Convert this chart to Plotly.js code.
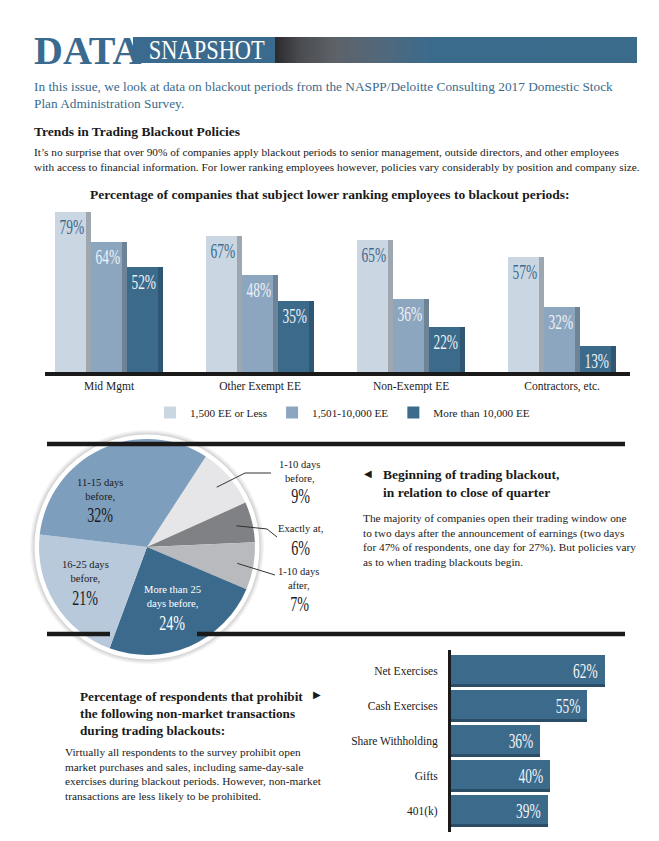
<!DOCTYPE html>
<html><head><meta charset="utf-8">
<script src="https://cdn.plot.ly/plotly-3.0.1.min.js"></script>
<style>html,body{margin:0;padding:0;background:#fff}#chart{width:659px;height:841px}</style>
</head><body><div id="chart"></div>
<script>
// ---------- DATA ----------
const groups = ['Mid Mgmt', 'Other Exempt EE', 'Non-Exempt EE', 'Contractors, etc.'];
const seriesNames = ['1,500 EE or Less', '1,501-10,000 EE', 'More than 10,000 EE'];
const smallCo = [79, 67, 65, 57];
const midCo = [64, 48, 36, 32];
const largeCo = [52, 35, 22, 13];

const pieLabels = ['1-10 days<br>before,', 'Exactly at,', '1-10 days<br>after,', 'More than 25<br>days before,', '16-25 days<br>before,', '11-15 days<br>before,'];
const pieValues = [9, 6, 7, 24, 21, 32];

const txnLabels = ['Net Exercises', 'Cash Exercises', 'Share Withholding', 'Gifts', '401(k)'];
const txnValues = [62, 55, 36, 40, 39];

// ---------- STYLE ----------
const W = 659, H = 841;
const px = x => x / W, py = y => 1 - y / H;
const SERIF = 'Liberation Serif, serif';
const NUM = 'Liberation Serif, serif';
const BLUE = '#3b6a8c';
const barColors = ['#cbd6e3', '#8ca6c0', '#3b6a8b'];
const stripColors = ['#9ea6b0', '#6f8397', '#2f5673'];
const barTextColors = [BLUE, '#eef2f6', '#eef2f6'];
const pieColors = ['#e6e6e8', '#808184', '#b9babd', '#3c6a8c', '#b8c9dc', '#7e9ebd'];
const pieTextColors = ['#1a1a1a', '#1a1a1a', '#1a1a1a', '#ffffff', '#1a1a1a', '#1a1a1a'];
// label block centre x, first wording line y, percentage y (page pixels)
const pieLabelPos = [[300, 465, 496], [300, 528, 547], [299, 572, 603], [172, 590, 622], [85, 565, 597], [100, 483, 514]];

const traces = [];
const seriesVals = [smallCo, midCo, largeCo];
const BW = 0.238, SW = 0.033;
seriesVals.forEach((vals, s) => {
  const off = -0.357 + s * BW;
  traces.push({
    type: 'bar', name: seriesNames[s], x: groups, y: vals,
    offset: off, width: BW - SW * 0.5, marker: {color: barColors[s]},
    text: vals.map(v => v + '%'), textposition: 'inside', insidetextanchor: 'end',
    textangle: 0, constraintext: 'none',
    textfont: {family: NUM, size: 21, color: barTextColors[s]},
    xaxis: 'x', yaxis: 'y', hoverinfo: 'x+y'
  });
  traces.push({
    type: 'bar', x: groups, y: vals, offset: off + BW - SW, width: SW,
    marker: {color: stripColors[s]}, showlegend: false, hoverinfo: 'skip',
    xaxis: 'x', yaxis: 'y'
  });
});

// pie
const cx = 147, cy = 547, R = 108;
traces.push({
  type: 'pie', values: pieValues, labels: pieLabels, sort: false,
  direction: 'clockwise', rotation: 33,
  marker: {colors: pieColors}, textinfo: 'none',
  domain: {x: [px(cx - R), px(cx + R)], y: [py(cy + R), py(cy - R)]},
  showlegend: false, hoverinfo: 'label+value'
});

// horizontal bars
traces.push({
  type: 'bar', orientation: 'h', y: txnLabels, x: txnValues,
  offset: -0.47, width: 0.94, marker: {color: '#3c6a8b'},
  text: txnValues.map(v => v + '%'), textposition: 'inside', insidetextanchor: 'end',
  textangle: 0, constraintext: 'none',
  textfont: {family: NUM, size: 21, color: '#f2f5f8'},
  xaxis: 'x2', yaxis: 'y2', showlegend: false, hoverinfo: 'x+y'
});
traces.push({
  type: 'bar', orientation: 'h', y: txnLabels, x: txnValues,
  offset: 0.36, width: 0.11, marker: {color: '#2b4d66'},
  xaxis: 'x2', yaxis: 'y2', showlegend: false, hoverinfo: 'skip'
});

// ---------- SHAPES ----------
const shapes = [];
shapes.push({type: 'rect', xref: 'paper', yref: 'paper', x0: px(133), x1: px(276), y0: py(63), y1: py(37), fillcolor: '#3a6b8e', line: {width: 0}});
const stops = [[275, [43, 43, 45]], [300, [74, 76, 80]], [335, [93, 98, 105]], [380, [82, 104, 122]], [430, [59, 107, 140]], [637, [58, 107, 139]]];
function colAt(x) {
  for (let i = 0; i < stops.length - 1; i++) {
    const a = stops[i], b = stops[i + 1];
    if (x <= b[0]) {
      const t = (x - a[0]) / (b[0] - a[0]);
      return 'rgb(' + a[1].map((c, k) => Math.round(c + (b[1][k] - c) * t)).join(',') + ')';
    }
  }
  return 'rgb(58,107,139)';
}
for (let x = 275; x < 637; x += 3) {
  shapes.push({type: 'rect', xref: 'paper', yref: 'paper', x0: px(x), x1: px(Math.min(x + 3.6, 637)), y0: py(63), y1: py(37), fillcolor: colAt(x + 1.5), line: {width: 0}});
}
[[117, '#f4f4f4'], [115.5, '#e6e6e6'], [114, '#d6d6d6'], [112.5, '#ffffff']].forEach(([r, c]) => {
  shapes.push({type: 'circle', xref: 'paper', yref: 'paper', layer: 'below', x0: px(cx - r), x1: px(cx + r), y0: py(cy + r), y1: py(cy - r), fillcolor: c, line: {width: 0}});
});
shapes.push({type: 'line', xref: 'paper', yref: 'paper', x0: px(47), x1: px(625), y0: py(444), y1: py(444), line: {color: '#1a1a1a', width: 4.5}});
shapes.push({type: 'line', xref: 'paper', yref: 'paper', x0: px(47), x1: px(110), y0: py(634), y1: py(634), line: {color: '#1a1a1a', width: 4.5}});
shapes.push({type: 'line', xref: 'paper', yref: 'paper', x0: px(197), x1: px(625), y0: py(634), y1: py(634), line: {color: '#1a1a1a', width: 4.5}});

const tot = pieValues.reduce((a, b) => a + b, 0);
const mids = [];
let acc = 33;
pieValues.forEach(v => { const a = v / tot * 360; mids.push(acc + a / 2); acc += a; });
function onPie(i, f) {
  const t = mids[i] * Math.PI / 180;
  return [cx + f * R * Math.sin(t), cy - f * R * Math.cos(t)];
}
function pathPx(pts) {
  return pts.map((p, k) => (k ? 'L' : 'M') + px(p[0]).toFixed(5) + ',' + py(p[1]).toFixed(5)).join(' ');
}
const leaderTails = [[[245, 473], [271, 473]], [[267, 529], [277, 537]], [[275, 575]]];
[0, 1, 2].forEach(i => {
  shapes.push({type: 'path', xref: 'paper', yref: 'paper', path: pathPx([onPie(i, 0.85)].concat(leaderTails[i])), line: {color: '#333', width: 1}});
});

// ---------- ANNOTATIONS ----------
const ann = [];
const squeezeIdx = [];
function T(text, x, y, o) {
  ann.push(Object.assign({text: text, x: px(x), y: py(y), xref: 'paper', yref: 'paper', showarrow: false,
    xanchor: 'left', yanchor: 'middle', align: 'left', font: {family: SERIF, size: 11.5, color: '#1a1a1a'}}, o || {}));
  return ann.length - 1;
}
T('<b>DATA</b>', 32, 50, {font: {family: SERIF, size: 40, color: '#3a6a8e'}});
squeezeIdx.push([T('SNAPSHOT', 207, 50, {xanchor: 'center', font: {family: SERIF, size: 27, color: '#ffffff'}}), 116]);
T('In this issue, we look at data on blackout periods from the NASPP/Deloitte Consulting 2017 Domestic Stock<br>Plan Administration Survey.', 32, 95, {font: {family: SERIF, size: 13.3, color: '#3a6a8c'}});
T('<b>Trends in Trading Blackout Policies</b>', 32, 131, {font: {family: SERIF, size: 13.5, color: '#1a1a1a'}});
T('It\u2019s no surprise that over 90% of companies apply blackout periods to senior management, outside directors, and other employees<br>with access to financial information. For lower ranking employees however, policies vary considerably by position and company size.', 32, 159, {font: {family: SERIF, size: 11.3, color: '#1a1a1a'}});
T('<b>Percentage of companies that subject lower ranking employees to blackout periods:</b>', 329, 194, {xanchor: 'center', align: 'center', font: {family: SERIF, size: 13.5, color: '#1a1a1a'}});

// pie labels: wording lines + percentage
pieLabels.forEach((l, i) => {
  const p = pieLabelPos[i];
  const nLines = l.split('<br>').length;
  T(l, p[0], p[1] + (nLines - 1) * 6.8, {xanchor: 'center', align: 'center', font: {family: SERIF, size: 10.6, color: pieTextColors[i]}});
  squeezeIdx.push([T(pieValues[i] + '%', p[0], p[2], {xanchor: 'center', font: {family: NUM, size: 22, color: pieTextColors[i]}}), null]);
});

T('\u25C0', 362, 474, {font: {family: 'DejaVu Sans, sans-serif', size: 10, color: '#1a1a1a'}});
T('<b>Beginning of trading blackout,<br>in relation to close of quarter</b>', 381, 483, {font: {family: SERIF, size: 13.5, color: '#1a1a1a'}});
T('The majority of companies open their trading window one<br>to two days after the announcement of earnings (two days<br>for 47% of respondents, one day for 27%). But policies vary<br>as to when trading blackouts begin.', 361, 540, {font: {family: SERIF, size: 11.3, color: '#1a1a1a'}});

T('<b>Percentage of respondents that prohibit<br>the following non-market transactions<br>during trading blackouts:</b>', 78, 713, {font: {family: SERIF, size: 13.2, color: '#1a1a1a'}});
T('\u25B6', 311, 694, {font: {family: 'DejaVu Sans, sans-serif', size: 10, color: '#1a1a1a'}});
T('Virtually all respondents to the survey prohibit open<br>market purchases and sales, including same-day-sale<br>exercises during blackout periods. However, non-market<br>transactions are less likely to be prohibited.', 63, 774, {font: {family: SERIF, size: 11.3, color: '#1a1a1a'}});

const layout = {
  width: W, height: H, margin: {l: 0, r: 0, t: 0, b: 0},
  paper_bgcolor: '#ffffff', plot_bgcolor: 'rgba(0,0,0,0)',
  barmode: 'overlay', bargap: 0,
  xaxis: {domain: [px(45), px(630)], type: 'category', range: [-0.424, 3.45], showline: true, linewidth: 4, linecolor: '#1a1a1a',
    ticks: '', showgrid: false, zeroline: false, fixedrange: true, tickfont: {family: SERIF, size: 11.5, color: '#1a1a1a'}, anchor: 'y'},
  yaxis: {domain: [py(372), py(210)], range: [0, 80], visible: false, fixedrange: true, anchor: 'x'},
  xaxis2: {domain: [px(451), px(637)], range: [0, 75], visible: false, fixedrange: true, anchor: 'y2'},
  yaxis2: {domain: [py(832), py(650)], type: 'category', range: [4.6, -0.6], showline: true, linewidth: 3, linecolor: '#1a1a1a',
    ticks: '', showgrid: false, zeroline: false, fixedrange: true, ticklabelstandoff: 8, tickfont: {family: SERIF, size: 11.5, color: '#1a1a1a'}, anchor: 'x2'},
  showlegend: true,
  legend: {orientation: 'h', x: px(150), y: py(398), xanchor: 'left', yanchor: 'top', bgcolor: 'rgba(0,0,0,0)',
    font: {family: SERIF, size: 11.2, color: '#1a1a1a'}, traceorder: 'normal', itemwidth: 30},
  shapes: shapes, annotations: ann
};

// narrow the tall percentage figures (condensed look), keeping their anchor point
function squeeze(el, f, target, mode) {
  const b0 = el.getBBox();
  const nw = target || b0.width * f;
  el.setAttribute('textLength', nw.toFixed(1));
  el.setAttribute('lengthAdjust', 'spacingAndGlyphs');
  const b1 = el.getBBox();
  const dx = mode === 'right' ? (b0.x + b0.width) - (b1.x + b1.width) - 4 : (b0.x + b0.width / 2) - (b1.x + b1.width / 2);
  const x = parseFloat(el.getAttribute('x') || '0');
  el.setAttribute('x', (x + dx).toFixed(1));
}
Plotly.newPlot('chart', traces, layout, {displayModeBar: false, staticPlot: true}).then(gd => {
  gd.querySelectorAll('.barlayer .trace').forEach((tr, k) => {
    const horiz = k >= 6;
    tr.querySelectorAll('text.bartext').forEach(t => squeeze(t, 0.64, null, horiz ? 'right' : 'center'));
  });
  squeezeIdx.forEach(([i, target]) => {
    const t = gd.querySelector('.annotation[data-index="' + i + '"] text.annotation-text');
    if (t) squeeze(t, 0.64, target, 'center');
  });
});
</script></body></html>
